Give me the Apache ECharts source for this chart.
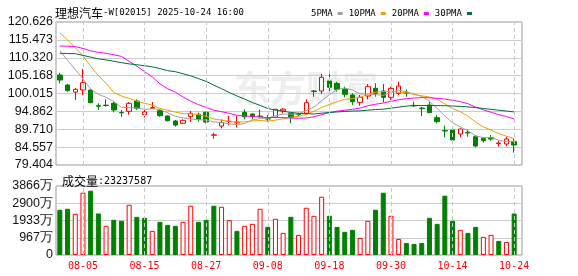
<!DOCTYPE html>
<html><head><meta charset="utf-8">
<script src="https://cdn.jsdelivr.net/npm/echarts@6/dist/echarts.min.js"></script>
<style>html,body{margin:0;padding:0;background:#fff}#c{width:578px;height:276px}</style>
</head><body><div id="c"></div>
<script>
const dates = ['07-31','08-01','08-04','08-05','08-06','08-07','08-08','08-11','08-12','08-13','08-14','08-15','08-18','08-19','08-20','08-21','08-22','08-25','08-26','08-27','08-28','08-29','09-01','09-02','09-03','09-04','09-05','09-08','09-09','09-10','09-11','09-12','09-15','09-16','09-17','09-18','09-19','09-22','09-23','09-24','09-25','09-26','09-29','09-30','10-02','10-03','10-06','10-08','10-09','10-10','10-13','10-14','10-15','10-16','10-17','10-20','10-21','10-22','10-23','10-24'];
const opens = [105.35,102.46,100.44,101.02,101.02,96.5,96.65,97.18,94.55,94.87,97.85,93.91,95.75,95.06,93.53,92.09,91.41,93.34,94.01,94.59,88.0,90.64,91.9,91.55,94.59,94.1,93.5,92.75,93.15,95.0,94.3,94.0,94.3,100.75,100.74,103.62,102.95,101.22,99.58,97.47,99.29,101.5,100.74,98.91,100.06,100.35,96.6,95.8,96.7,93.05,89.35,89.49,88.34,88.8,87.57,87.09,87.3,85.55,85.46,86.13];
const closes = [103.9,100.83,101.21,103.14,97.37,96.35,96.55,95.26,94.45,97.18,95.74,94.68,95.95,93.62,92.18,90.93,92.28,94.3,92.57,91.8,88.1,91.61,92.0,91.75,93.3,93.35,93.4,92.65,95.45,95.5,93.14,93.9,97.37,100.6,104.67,101.79,101.22,99.77,97.66,98.91,101.98,100.06,98.91,101.5,102.17,100.06,96.45,95.65,94.49,91.9,89.2,86.61,89.78,88.65,84.88,86.42,86.9,85.75,86.9,85.17];
const lows = [102.95,100.54,98.14,99.58,97.2,95.26,96.22,94.58,93.33,93.91,95.26,93.14,95.64,93.33,92.0,90.45,91.22,91.8,91.9,91.41,86.99,89.97,90.84,90.26,92.57,92.57,93.15,91.9,92.9,94.3,91.41,93.5,94.1,99.1,99.87,100.25,100.54,98.91,96.7,96.5,98.33,99.1,97.47,98.14,99.58,99.1,96.2,93.53,94.4,91.41,87.38,85.65,87.38,87.57,84.5,85.84,86.42,84.69,84.88,82.96];
const highs = [106.0,102.75,101.6,107.08,101.1,97.18,98.33,97.66,95.26,97.56,98.33,95.26,97.56,95.45,93.7,92.38,92.57,94.97,94.49,94.78,88.72,92.57,93.62,93.53,95.45,94.3,95.45,93.8,95.6,95.8,94.4,94.5,98.33,101.02,105.64,105.64,103.43,101.98,100.07,99.58,102.75,102.95,102.75,101.98,103.43,101.2,97.66,96.2,97.66,93.82,90.74,90.65,89.9,89.68,88.05,87.38,88.05,86.32,87.57,87.09];
const volumes = [2534,2590,2308,3491,3603,2327,1633,1970,1914,2815,2139,2083,1351,1858,1689,1633,1858,2759,1858,1970,2759,2702,1952,1351,1633,1745,2590,1576,2027,1239,2139,1126,2646,2196,3266,2196,1576,1295,1408,957,1914,2534,3491,2196,901,676,619,676,2083,1745,3322,1914,1408,1239,1576,1013,1126,788,732,2324];
const ma5 = [112.3,109.6,106.9,104.2,101.29,99.78,98.92,97.73,96.0,95.96,95.84,95.46,95.6,95.43,94.43,93.47,92.99,92.66,92.45,92.38,91.81,91.68,91.22,91.05,91.35,92.4,92.76,92.89,93.63,94.07,94.03,94.13,95.07,96.1,97.94,99.67,101.13,101.61,101.02,99.87,99.91,99.68,99.5,100.27,100.92,100.54,99.82,99.17,97.76,95.71,93.54,91.57,90.4,89.23,87.82,87.27,87.33,86.52,86.17,86.23];
const ma10 = [117.5,115.5,113.2,110.9,107.9,105.2,103.0,100.3,99.3,98.62,97.81,97.19,96.67,95.72,95.2,94.65,94.23,94.13,93.94,93.41,92.64,92.33,91.94,91.75,91.86,92.11,92.22,92.05,92.34,92.71,93.22,93.44,93.98,94.87,96.0,96.85,97.63,98.34,98.56,98.9,99.79,100.4,100.56,100.65,100.4,100.22,99.75,99.34,99.02,98.32,97.04,95.69,94.78,93.5,91.77,90.4,89.45,88.46,87.7,87.03];
const ma20 = [113.7,113.65,113.55,113.0,112.3,111.9,111.6,111.2,110.7,109.3,107.9,106.3,104.8,102.8,101.4,100.4,99.0,97.8,96.8,96.01,95.22,94.76,94.3,93.73,93.53,93.38,93.22,93.09,93.14,93.06,92.93,92.89,92.96,93.31,93.93,94.48,94.92,95.2,95.45,95.81,96.5,96.92,97.27,97.76,98.2,98.54,98.69,98.84,98.79,98.61,98.41,98.05,97.67,97.07,96.08,95.31,94.6,93.9,93.36,92.67];
const ma30 = [111.6,111.55,111.5,111.0,110.5,110.0,109.7,109.3,108.9,108.55,108.3,108.0,107.7,107.2,106.6,106.3,105.7,105.1,104.3,103.5,102.4,101.4,100.3,99.3,98.4,97.4,96.6,95.7,95.2,94.91,94.55,94.32,94.2,94.11,94.35,94.54,94.69,94.84,94.95,95.01,95.21,95.39,95.49,95.76,96.09,96.39,96.53,96.55,96.55,96.52,96.5,96.4,96.3,96.15,95.95,95.7,95.45,95.2,94.95,94.7];
const priceTicks = ['79.404','84.557','89.710','94.862','100.015','105.168','110.320','115.473','120.626'];
const volTicks = ['0','967万','1933万','2900万','3866万'];
const labelDates = ['08-05','08-15','08-27','09-08','09-18','09-30','10-14','10-24'];

const pMin = 79.404, pMax = 120.626, pInt = (pMax - pMin) / 8;
const vMin = 0, vMax = 3866, vInt = vMax / 4;

const candleData = dates.map((d, i) => [opens[i], closes[i], lows[i], highs[i]]);
const volData = volumes.map((v, i) => {
  const up = i === 0 ? closes[0] >= opens[0] : closes[i] >= closes[i - 1];
  return { value: v, itemStyle: up ? { color: '#ffffff', borderColor: '#ff0000', borderWidth: 1 } : { color: '#008000', borderColor: '#008000', borderWidth: 1 } };
});

const C5 = '#a0a0a0', C10 = '#f0a000', C20 = '#ff00ff', C30 = '#006e3a';
const mono = 'DejaVu Sans Mono';
const cjk = 'Noto Sans CJK SC';
const vmark = {
  silent: true, symbol: ['none', 'none'], label: { show: false }, animation: false,
  lineStyle: { type: [4, 3], color: '#c8c8c8', width: 1 },
  data: labelDates.map(d => ({ xAxis: d }))
};
function maSeries(name, data, color) {
  return { name, type: 'line', xAxisIndex: 0, yAxisIndex: 0, data, symbol: 'none', showSymbol: false, z: 3,
    lineStyle: { color, width: 1 }, itemStyle: { color }, animation: false };
}

const chart = echarts.init(document.getElementById('c'), null, { renderer: 'canvas' });
chart.setOption({
  animation: false,
  backgroundColor: '#ffffff',
  title: [
    { text: '{a|理想汽车}{b|-W[02015] 2025-10-24 16:00}', left: 50, top: 2,
      textStyle: { fontWeight: 'normal', rich: { a: { fontFamily: cjk, fontSize: 12, fontWeight: 'normal', color: '#000' }, b: { fontFamily: mono, fontSize: 9, fontWeight: 'normal', color: '#000' } } } },
    { text: '{a|成交量}{b|:23237587}', left: 57, top: 170,
      textStyle: { fontWeight: 'normal', rich: { a: { fontFamily: cjk, fontSize: 12, fontWeight: 'normal', color: '#000' }, b: { fontFamily: mono, fontSize: 10, fontWeight: 'normal', color: '#000' } } } }
  ],
  legend: {
    left: 306, top: 4, itemWidth: 5, itemHeight: 3, itemGap: 6, align: 'right', selectedMode: false,
    textStyle: { fontFamily: mono, fontSize: 9, color: '#000' },
    data: [{ name: '5PMA', icon: 'rect' }, { name: '10PMA', icon: 'rect' }, { name: '20PMA', icon: 'rect' }, { name: '30PMA', icon: 'rect' }]
  },
  graphic: [{
    type: 'text', left: 234, top: 70, z: 0, silent: true,
    style: { text: '东方财富', font: 'bold 36px "Noto Sans CJK SC"', fill: '#eeeeee' }
  }],
  grid: [
    { left: 56, top: 22, width: 462, height: 143, outerBoundsMode: 'none' },
    { left: 56, top: 186, width: 462, height: 69, outerBoundsMode: 'none' },
    { left: 56, top: 22, width: 466, height: 143, show: true, borderColor: '#999', borderWidth: 1, backgroundColor: 'transparent', outerBoundsMode: 'none' },
    { left: 56, top: 186, width: 466, height: 69, show: true, borderColor: '#999', borderWidth: 1, backgroundColor: 'transparent', outerBoundsMode: 'none' }
  ],
  xAxis: [
    { type: 'category', gridIndex: 0, data: dates, boundaryGap: true, axisLine: { show: false }, axisTick: { show: false }, axisLabel: { show: false }, splitLine: { show: false } },
    { type: 'category', gridIndex: 1, data: dates, boundaryGap: true, axisLine: { show: false }, axisTick: { show: false }, splitLine: { show: false },
      axisLabel: { show: true, interval: (i, v) => labelDates.indexOf(v) >= 0, color: '#ff0000', fontFamily: mono, fontSize: 10, margin: 6 } },
    { type: 'value', gridIndex: 2, show: false, min: 0, max: 1 },
    { type: 'value', gridIndex: 3, show: false, min: 0, max: 1 }
  ],
  yAxis: [
    { type: 'value', gridIndex: 0, min: pMin, max: pMax, interval: pInt, axisLine: { show: false }, axisTick: { show: false }, splitLine: { show: false },
      axisLabel: { margin: 3, color: '#111', fontFamily: 'Liberation Sans', fontSize: 12.5, formatter: v => priceTicks[Math.round((v - pMin) / pInt)] || '' } },
    { type: 'value', gridIndex: 1, min: vMin, max: vMax, interval: vInt, axisLine: { show: false }, axisTick: { show: false }, splitLine: { show: false },
      axisLabel: { margin: 3, color: '#111', fontFamily: 'Liberation Sans', fontSize: 12.5, formatter: v => volTicks[Math.round((v - vMin) / vInt)] || '' } },
    { type: 'value', gridIndex: 2, min: pMin, max: pMax, interval: pInt, axisLine: { show: false }, axisTick: { show: false }, axisLabel: { show: false },
      splitLine: { show: true, lineStyle: { color: '#cccccc', width: 1 } } },
    { type: 'value', gridIndex: 3, min: vMin, max: vMax, interval: vInt, axisLine: { show: false }, axisTick: { show: false }, axisLabel: { show: false },
      splitLine: { show: true, lineStyle: { color: '#cccccc', width: 1 } } }
  ],
  series: [
    { type: 'line', xAxisIndex: 0, yAxisIndex: 0, data: [], z: 1, silent: true, markLine: vmark },
    { type: 'line', xAxisIndex: 1, yAxisIndex: 1, data: [], z: 1, silent: true, markLine: vmark },
    { name: 'K', type: 'candlestick', xAxisIndex: 0, yAxisIndex: 0, data: candleData, barWidth: 5, z: 2,
      itemStyle: { color: '#ffffff', color0: '#008000', borderColor: '#ff0000', borderColor0: '#008000', borderWidth: 1 } },
    maSeries('5PMA', ma5, C5),
    maSeries('10PMA', ma10, C10),
    maSeries('20PMA', ma20, C20),
    maSeries('30PMA', ma30, C30),
    { name: 'VOL', type: 'bar', xAxisIndex: 1, yAxisIndex: 1, data: volData, barWidth: 5, z: 2 }
  ]
});
</script>
</body></html>
